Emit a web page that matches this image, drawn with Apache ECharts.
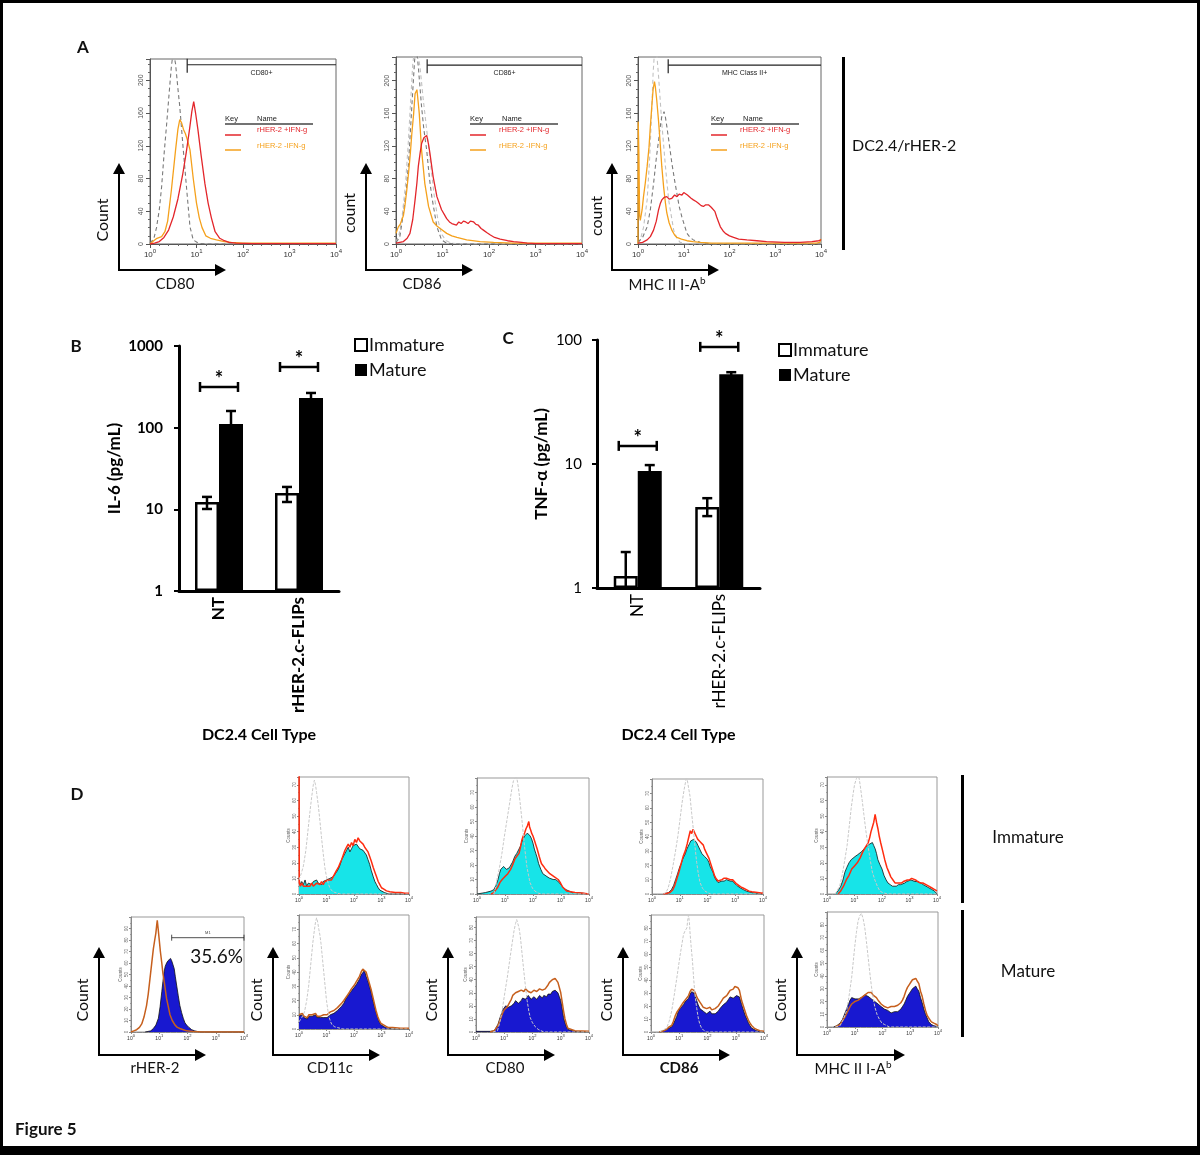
<!DOCTYPE html>
<html><head><meta charset="utf-8">
<script src="https://cdn.jsdelivr.net/npm/echarts@6/dist/echarts.min.js"></script>
<style>html,body{margin:0;padding:0;background:#fff}#c{width:1200px;height:1155px}</style>
</head><body><div id="c"></div>
<script>
// ---------------- DATA ----------------
// Panel A: histograms, x in log10 units (10^0..10^4), y = count
const a1Red=[[0,0],[0.1,1],[0.2,3],[0.3,8],[0.4,17],[0.5,33],[0.6,55],[0.7,84],[0.78,112],[0.85,140],[0.9,162],[0.94,174],[0.98,160],[1.03,140],[1.1,108],[1.18,74],[1.25,50],[1.32,32],[1.4,15],[1.5,7],[1.6,4],[1.7,2],[1.85,1],[2.2,0.5],[3,0.5],[4,0.5]];
const a1Orange=[[0,0],[0.08,4],[0.15,7],[0.25,9],[0.32,15],[0.38,28],[0.46,66],[0.55,115],[0.6,140],[0.64,152],[0.68,148],[0.72,140],[0.76,135],[0.8,128],[0.86,115],[0.93,80],[1.0,50],[1.06,32],[1.12,20],[1.2,10],[1.3,7],[1.43,5],[1.6,3],[1.75,2],[2,1],[3,1],[4,1]];
const a1Gray=[[0,1],[0.08,6],[0.14,20],[0.2,42],[0.25,70],[0.3,108],[0.36,148],[0.42,190],[0.46,217],[0.5,235],[0.55,220],[0.6,190],[0.64,168],[0.71,119],[0.79,66],[0.86,21],[0.93,5],[1.04,1],[1.2,0],[4,0]];
const a2Red=[[0,1],[0.08,2],[0.16,3],[0.24,7],[0.3,13],[0.36,30],[0.41,54],[0.45,75],[0.48,95],[0.52,112],[0.55,123],[0.6,130],[0.66,133],[0.7,122],[0.73,111],[0.8,82],[0.88,58],[0.98,42],[1.05,35],[1.09,31],[1.15,27],[1.2,25],[1.24,26],[1.3,23],[1.35,27],[1.4,25],[1.45,28],[1.5,27],[1.55,25],[1.6,28],[1.67,27],[1.72,24],[1.77,23],[1.83,19],[1.88,17],[1.95,14],[2.03,11],[2.12,8],[2.24,6],[2.4,4],[2.53,3],[2.7,2],[2.82,1],[3,0.5],[4,0.5]];
const a2Orange=[[0,13],[0.05,21],[0.09,24],[0.12,25],[0.16,35],[0.19,46],[0.23,65],[0.27,87],[0.31,112],[0.34,135],[0.38,160],[0.41,184],[0.45,189],[0.48,172],[0.5,160],[0.55,115],[0.62,74],[0.7,46],[0.8,27],[0.88,22],[0.95,19],[1.09,13],[1.2,10],[1.31,8],[1.52,5],[1.81,3],[2.1,2],[2.5,1],[4,1]];
const a2GrayDark=[[0,2],[0.08,8],[0.16,38],[0.22,65],[0.27,99],[0.34,168],[0.4,225],[0.44,240],[0.48,217],[0.55,168],[0.6,140],[0.66,115],[0.72,80],[0.77,58],[0.88,21],[0.98,5],[1.09,1],[1.3,0],[4,0]];
const a2GrayLight=[[0,3],[0.06,10],[0.12,28],[0.2,70],[0.26,120],[0.32,180],[0.36,220],[0.4,240],[0.46,238],[0.52,215],[0.58,180],[0.66,140],[0.74,100],[0.82,60],[0.9,30],[0.98,12],[1.08,4],[1.2,1],[1.4,0],[4,0]];
const a3Orange=[[0,0],[0.005,150],[0.02,110],[0.035,35],[0.05,29],[0.09,42],[0.12,58],[0.16,75],[0.2,95],[0.24,118],[0.27,144],[0.31,175],[0.33,189],[0.36,199],[0.38,192],[0.41,176],[0.45,150],[0.49,119],[0.52,95],[0.56,70],[0.6,50],[0.63,38],[0.68,26],[0.74,17],[0.8,11],[0.85,8],[0.95,6],[1.07,4],[1.2,3],[1.36,2],[1.6,1],[3.9,1],[3.97,2],[4,6]];
const a3Red=[[0,1],[0.1,2],[0.2,5],[0.27,9],[0.34,17],[0.4,28],[0.45,42],[0.49,50],[0.52,54],[0.57,57],[0.63,58],[0.68,55],[0.74,56],[0.8,60],[0.85,58],[0.9,61],[0.96,60],[1.0,63],[1.04,62],[1.08,60],[1.11,58],[1.16,56],[1.21,54],[1.27,52],[1.32,50],[1.38,47],[1.43,46],[1.48,48],[1.54,48],[1.6,45],[1.64,44],[1.68,40],[1.72,33],[1.76,27],[1.8,21],[1.86,16],[1.91,13],[2.0,10],[2.09,8],[2.2,6],[2.38,5],[2.6,4],[2.81,3],[3.2,2],[3.54,2],[3.8,3],[3.95,4],[4,5]];
const a3GrayDark=[[0,2],[0.1,8],[0.2,21],[0.27,42],[0.34,74],[0.4,105],[0.45,127],[0.49,145],[0.52,156],[0.57,162],[0.6,155],[0.63,144],[0.68,124],[0.74,99],[0.8,78],[0.85,62],[0.9,46],[0.96,33],[1.02,22],[1.07,13],[1.14,8],[1.21,5],[1.36,2],[1.6,0],[4,0]];
const a3GrayLight=[[0,1],[0.05,5],[0.12,20],[0.2,54],[0.25,100],[0.29,150],[0.33,209],[0.36,235],[0.4,240],[0.45,205],[0.52,148],[0.6,95],[0.67,54],[0.78,17],[0.85,7],[0.92,2],[1.05,0],[4,0]];
// gates: [start, end, level]
const gateA1=[0.8,4,219], gateA2=[0.67,4,219], gateA3=[0.66,4,219];

// Panel B: IL-6 (pg/mL)
const cellTypes=['NT','rHER-2.c-FLIPs'];
const il6Immature=[12.3,15.9], il6ImmLo=[10.1,12.3], il6ImmHi=[14.2,18.8];
const il6Mature=[111,231], il6MatLo=[75,200], il6MatHi=[160,266];
const il6SigY=[315,553];
// Panel C: TNF-alpha (pg/mL)
const tnfImmature=[1.25,4.5], tnfImmLo=[0.6,3.8], tnfImmHi=[1.95,5.3];
const tnfMature=[8.8,53], tnfMatLo=[7.9,51], tnfMatHi=[9.8,55];
const tnfSigY=[14,88];

// Panel D immature (cyan fill, red overlay, grey isotype)
const d1Iso=[[0,9],[0.08,13],[0.16,18],[0.25,28],[0.34,43],[0.4,53],[0.46,62],[0.52,70],[0.56,73],[0.6,70],[0.64,65],[0.7,57],[0.76,47],[0.82,36],[0.88,26],[0.94,17],[1.0,11],[1.06,7],[1.12,4],[1.2,2],[1.3,1],[1.5,0],[4,0]];
const d1Fill=[[0,10],[0.05,6],[0.1,8],[0.16,6],[0.22,9],[0.28,5],[0.34,7],[0.4,8],[0.46,6],[0.52,8],[0.58,7],[0.64,9],[0.7,7],[0.76,8],[0.82,6],[0.88,8],[0.94,7],[1.0,9],[1.06,8],[1.12,10],[1.18,10],[1.24,11],[1.3,12],[1.36,14],[1.43,16],[1.5,19],[1.55,22],[1.6,21],[1.67,26],[1.73,28],[1.79,30],[1.85,27],[1.91,29],[1.97,31],[2.03,30],[2.09,32],[2.15,31],[2.21,29],[2.27,30],[2.33,28],[2.39,27],[2.45,25],[2.51,22],[2.57,19],[2.63,15],[2.7,11],[2.76,8],[2.82,6],[2.88,4],[2.94,2.5],[3.0,1.5],[3.1,1],[3.18,0.5],[3.3,0],[4,0]];
const d1Red=[[0,100],[0.01,7],[0.05,5],[0.1,7],[0.16,5],[0.22,6],[0.28,5],[0.34,6],[0.4,5],[0.46,7],[0.52,5],[0.58,6],[0.64,7],[0.7,7],[0.76,6],[0.82,8],[0.88,6],[0.94,8],[1.0,7],[1.06,9],[1.12,8],[1.18,9],[1.24,11],[1.3,12],[1.36,15],[1.43,17],[1.5,20],[1.55,22],[1.61,25],[1.67,28],[1.73,30],[1.79,32],[1.85,30],[1.91,33],[1.97,31],[2.03,35],[2.09,33],[2.15,36],[2.21,34],[2.27,33],[2.33,32],[2.39,30],[2.45,29],[2.51,27],[2.57,24],[2.63,21],[2.7,17],[2.76,14],[2.82,11],[2.88,8],[2.94,6],[3.0,4],[3.1,3],[3.18,2],[3.3,1.5],[3.5,1],[3.7,1],[3.85,0.5],[4,0.5]];
const d2Iso=[[0.6,0],[0.66,4],[0.71,10],[0.8,18],[0.89,28],[0.98,40],[1.07,51],[1.16,62],[1.24,72],[1.3,78],[1.36,80],[1.4,82],[1.45,77],[1.5,70],[1.54,63],[1.6,52],[1.66,40],[1.72,29],[1.78,19],[1.84,13],[1.89,8],[1.98,4],[2.07,2],[2.2,0.5],[2.3,0],[4,0]];
const d2Fill=[[0,0],[0.3,1],[0.5,2],[0.6,3],[0.68,6],[0.75,10],[0.8,14],[0.85,17],[0.9,18],[0.95,19],[1.0,18],[1.05,17],[1.1,17],[1.15,18],[1.2,19],[1.27,22],[1.35,26],[1.42,28],[1.5,31],[1.55,33],[1.6,36],[1.65,38],[1.7,40],[1.75,41],[1.8,42],[1.85,41],[1.9,40],[1.95,38],[2.0,35],[2.05,31],[2.1,28],[2.15,25],[2.2,21],[2.28,17],[2.35,14],[2.42,13],[2.5,12],[2.58,11],[2.65,11],[2.72,10],[2.8,10],[2.88,9],[2.95,8],[3.02,6],[3.1,4],[3.18,3],[3.25,2],[3.4,1],[3.6,1],[3.8,0.5],[4,0]];
const d2Red=[[0.5,0],[0.6,1],[0.68,3],[0.75,5],[0.82,8],[0.9,10],[0.95,11],[1.0,12],[1.1,14],[1.2,17],[1.27,20],[1.35,24],[1.42,26],[1.5,28],[1.55,32],[1.6,37],[1.65,40],[1.7,42],[1.75,45],[1.8,47],[1.85,50],[1.88,46],[1.92,44],[1.95,42],[2.0,40],[2.05,37],[2.1,34],[2.15,31],[2.22,26],[2.3,21],[2.38,19],[2.45,17],[2.52,16],[2.6,14],[2.67,15],[2.75,12],[2.82,11],[2.9,10],[2.97,8],[3.05,5],[3.12,4],[3.2,2],[3.35,1.5],[3.5,1],[3.8,0.5],[4,0]];
const d3Iso=[[0.4,0],[0.5,1],[0.58,4],[0.66,10],[0.75,19],[0.84,29],[0.93,40],[1.01,52],[1.08,63],[1.16,73],[1.21,78],[1.25,82],[1.3,76],[1.37,68],[1.43,56],[1.49,45],[1.55,33],[1.61,22],[1.67,14],[1.73,8],[1.82,4],[1.91,2],[2.0,1],[2.1,0],[4,0]];
const d3Fill=[[0.4,0],[0.5,0.5],[0.6,1],[0.7,3],[0.78,6],[0.85,10],[0.92,14],[1.0,19],[1.05,21],[1.1,24],[1.15,26],[1.2,28],[1.25,31],[1.3,33],[1.35,35],[1.4,37],[1.45,38],[1.5,38],[1.55,37],[1.6,36],[1.65,34],[1.7,32],[1.75,30],[1.8,28],[1.85,27],[1.9,26],[1.95,25],[2.0,24],[2.05,22],[2.1,19],[2.15,17],[2.2,15],[2.25,12],[2.3,10],[2.38,8],[2.45,8],[2.52,9],[2.6,9],[2.68,10],[2.75,10],[2.82,9],[2.9,9],[2.97,8],[3.05,6],[3.12,5],[3.2,4],[3.3,3],[3.4,2],[3.5,1.5],[3.6,1],[3.8,0.5],[4,0]];
const d3Red=[[0.4,0],[0.55,0.5],[0.65,1],[0.75,3],[0.82,6],[0.9,11],[0.98,16],[1.05,21],[1.12,26],[1.2,30],[1.27,35],[1.33,40],[1.38,44],[1.43,42],[1.48,45],[1.55,42],[1.6,40],[1.65,38],[1.7,37],[1.75,36],[1.8,35],[1.85,34],[1.9,31],[1.95,29],[2.0,28],[2.05,25],[2.1,22],[2.15,19],[2.2,16],[2.25,13],[2.3,11],[2.38,9],[2.45,9],[2.52,10],[2.6,11],[2.68,11],[2.75,12],[2.82,10],[2.9,10],[2.97,9],[3.05,7],[3.12,6],[3.2,5],[3.3,4],[3.4,3],[3.5,2],[3.6,1.5],[3.8,1],[4,0.5]];
const d4Iso=[[0.3,0],[0.37,1],[0.46,5],[0.55,12],[0.64,21],[0.73,31],[0.8,42],[0.88,55],[0.94,63],[1.0,70],[1.07,74],[1.13,77],[1.18,73],[1.22,68],[1.28,60],[1.34,51],[1.41,41],[1.49,31],[1.57,22],[1.65,14],[1.74,9],[1.83,5],[1.92,2],[2.01,1],[2.2,0],[4,0]];
const d4Fill=[[0.3,0],[0.4,2],[0.5,5],[0.58,9],[0.65,14],[0.72,17],[0.8,20],[0.88,22],[0.95,23],[1.02,24],[1.1,25],[1.17,26],[1.25,27],[1.32,28],[1.4,30],[1.47,31],[1.55,32],[1.6,33],[1.65,33],[1.7,31],[1.75,29],[1.8,26],[1.85,22],[1.92,19],[2.0,16],[2.07,12],[2.15,9],[2.22,7],[2.3,6],[2.38,5],[2.45,5],[2.52,5],[2.6,6],[2.68,6],[2.75,7],[2.82,7],[2.9,8],[2.97,8],[3.05,9],[3.12,9],[3.2,8],[3.28,8],[3.35,7],[3.42,7],[3.5,6],[3.6,5],[3.7,4],[3.8,3],[3.9,2],[3.96,1],[4,0]];
const d4Red=[[0.4,0],[0.5,2],[0.6,5],[0.7,9],[0.8,12],[0.9,16],[1.0,18],[1.1,20],[1.2,23],[1.3,27],[1.4,30],[1.5,33],[1.55,36],[1.6,40],[1.65,43],[1.7,46],[1.75,51],[1.8,46],[1.85,42],[1.9,37],[1.95,33],[2.02,28],[2.1,22],[2.18,17],[2.25,14],[2.32,11],[2.4,9],[2.48,7],[2.55,6],[2.62,7],[2.7,7],[2.78,8],[2.85,8],[2.92,9],[3.0,9],[3.08,10],[3.15,10],[3.22,9],[3.3,8],[3.4,7],[3.5,7],[3.6,6],[3.7,5],[3.8,4],[3.9,3],[4,2]];
// Panel D mature (blue fill, brown overlay, grey isotype)
const d5Brown=[[0,0],[0.1,1],[0.2,2],[0.3,4],[0.38,7],[0.46,13],[0.55,23],[0.61,33],[0.67,46],[0.73,59],[0.79,72],[0.84,80],[0.88,86],[0.91,93],[0.93,97],[0.96,90],[1.0,80],[1.04,70],[1.09,60],[1.13,51],[1.18,43],[1.22,36],[1.26,29],[1.32,22],[1.38,15],[1.46,10],[1.56,6],[1.64,4],[1.73,3],[1.85,2],[1.97,1],[2.2,0.5],[2.5,0],[4,0]];
const d5Fill=[[0.5,0],[0.6,0.5],[0.7,1],[0.79,3],[0.88,6],[0.97,12],[1.03,22],[1.09,35],[1.13,44],[1.17,52],[1.21,57],[1.26,60],[1.31,62],[1.36,63],[1.4,64],[1.44,62],[1.48,59],[1.53,55],[1.57,48],[1.62,40],[1.67,32],[1.73,23],[1.79,17],[1.85,12],[1.91,8],[1.97,6],[2.05,4],[2.15,2],[2.25,1],[2.32,1],[2.44,0],[4,0]];
const gateD5=[1.44,4,82];
const d6Iso=[[0,5],[0.1,8],[0.2,12],[0.28,20],[0.35,30],[0.42,44],[0.5,60],[0.55,68],[0.6,75],[0.64,78],[0.68,75],[0.72,70],[0.76,66],[0.8,60],[0.85,50],[0.9,40],[0.95,30],[1.0,20],[1.05,13],[1.1,8],[1.15,5],[1.2,3],[1.3,1.5],[1.4,1],[1.6,0],[4,0]];
const d6Fill=[[0,9],[0.06,8],[0.12,10],[0.18,8],[0.24,9],[0.3,7],[0.36,9],[0.42,8],[0.48,9],[0.54,8],[0.6,10],[0.66,8],[0.72,9],[0.78,8],[0.84,9],[0.9,8],[0.96,9],[1.02,8],[1.08,9],[1.14,10],[1.2,11],[1.27,11],[1.33,12],[1.4,13],[1.47,14],[1.55,16],[1.63,18],[1.7,21],[1.77,23],[1.84,25],[1.9,26],[1.96,28],[2.02,29],[2.08,31],[2.14,33],[2.2,35],[2.26,38],[2.32,39],[2.38,41],[2.44,37],[2.5,34],[2.56,30],[2.62,26],[2.68,21],[2.74,16],[2.8,12],[2.86,8],[2.92,5],[2.98,3],[3.05,2],[3.15,1],[3.25,0.5],[3.4,0],[4,0]];
const d6Brown=[[0,10],[0.06,9],[0.12,11],[0.18,9],[0.24,10],[0.3,8],[0.36,10],[0.42,9],[0.48,10],[0.54,9],[0.6,11],[0.66,9],[0.72,10],[0.78,9],[0.84,10],[0.9,10],[0.96,10],[1.02,10],[1.08,11],[1.14,12],[1.2,12],[1.27,13],[1.33,14],[1.4,15],[1.47,16],[1.55,18],[1.63,20],[1.7,22],[1.77,24],[1.84,26],[1.9,28],[1.96,29],[2.02,31],[2.08,33],[2.14,35],[2.2,37],[2.26,40],[2.32,42],[2.38,43],[2.44,40],[2.5,36],[2.56,32],[2.62,28],[2.68,23],[2.74,18],[2.8,13],[2.86,9],[2.92,6],[2.98,4],[3.05,3],[3.15,2],[3.25,1],[3.4,1],[3.7,0.5],[4,0.5]];
const d7Iso=[[0.6,0],[0.76,1],[0.85,8],[0.93,17],[1.02,30],[1.11,42],[1.2,56],[1.28,68],[1.35,78],[1.4,83],[1.44,86],[1.48,85],[1.52,80],[1.57,73],[1.63,60],[1.69,47],[1.75,35],[1.81,24],[1.87,16],[1.92,11],[2.0,7],[2.1,4],[2.2,2],[2.27,1],[2.4,0],[4,0]];
const d7Fill=[[0,0.5],[0.5,0.5],[0.65,1],[0.7,2],[0.78,6],[0.85,11],[0.9,14],[0.95,17],[1.0,18],[1.05,20],[1.1,20],[1.15,19],[1.2,19],[1.25,20],[1.3,20],[1.35,22],[1.4,24],[1.45,23],[1.5,22],[1.55,23],[1.6,24],[1.65,26],[1.7,27],[1.75,25],[1.8,26],[1.85,28],[1.9,27],[1.95,25],[2.0,26],[2.05,27],[2.1,27],[2.15,25],[2.2,26],[2.25,28],[2.3,27],[2.35,26],[2.4,28],[2.45,27],[2.5,27],[2.55,29],[2.6,30],[2.65,29],[2.7,31],[2.75,31],[2.8,32],[2.85,31],[2.9,30],[2.95,27],[3.0,24],[3.05,18],[3.1,11],[3.15,7],[3.2,4],[3.25,2],[3.3,1],[3.5,0.5],[4,0]];
const d7Brown=[[0.5,0],[0.65,1],[0.7,2],[0.78,5],[0.85,9],[0.9,12],[0.95,15],[1.0,17],[1.05,18],[1.1,19],[1.15,21],[1.2,23],[1.25,25],[1.3,28],[1.35,29],[1.4,30],[1.45,31],[1.5,31],[1.55,30],[1.6,32],[1.65,31],[1.7,31],[1.75,33],[1.8,33],[1.85,31],[1.9,31],[1.95,30],[2.0,30],[2.05,32],[2.1,32],[2.15,31],[2.2,31],[2.25,33],[2.3,33],[2.35,32],[2.4,32],[2.45,33],[2.5,34],[2.55,36],[2.6,38],[2.65,39],[2.7,40],[2.75,41],[2.8,41],[2.85,40],[2.9,38],[2.95,34],[3.0,30],[3.05,23],[3.1,16],[3.15,10],[3.2,6],[3.25,3],[3.3,2],[3.5,1],[4,0.5]];
const d8Iso=[[0,0],[0.3,0],[0.55,3],[0.64,8],[0.73,16],[0.82,28],[0.91,41],[0.97,50],[1.03,59],[1.09,67],[1.15,75],[1.21,78],[1.27,80],[1.3,86],[1.33,90],[1.36,84],[1.38,77],[1.42,66],[1.47,54],[1.51,41],[1.56,28],[1.62,18],[1.68,10],[1.73,6],[1.79,3],[1.88,1],[1.97,0],[4,0]];
const d8Fill=[[0.3,0],[0.45,1],[0.55,2],[0.64,3],[0.73,4],[0.79,6],[0.85,9],[0.91,12],[0.97,16],[1.03,18],[1.09,19],[1.15,21],[1.2,23],[1.26,24],[1.33,26],[1.38,29],[1.44,31],[1.48,32],[1.52,30],[1.57,27],[1.62,24],[1.67,21],[1.73,18],[1.79,17],[1.85,16],[1.91,15],[1.97,14],[2.03,15],[2.09,16],[2.15,14],[2.21,13],[2.27,14],[2.32,14],[2.38,16],[2.44,18],[2.5,19],[2.56,21],[2.62,22],[2.68,23],[2.74,25],[2.8,27],[2.86,26],[2.91,26],[2.97,27],[3.03,28],[3.08,28],[3.13,27],[3.17,24],[3.21,21],[3.27,17],[3.33,13],[3.39,10],[3.45,7],[3.5,5],[3.56,3],[3.65,2],[3.74,1],[3.85,0.5],[4,0]];
const d8Brown=[[0.3,0],[0.45,1],[0.55,2],[0.64,4],[0.73,5],[0.79,8],[0.85,12],[0.91,15],[0.97,17],[1.03,19],[1.09,21],[1.15,23],[1.2,24],[1.26,26],[1.33,28],[1.38,31],[1.44,33],[1.48,34],[1.52,32],[1.57,30],[1.62,27],[1.67,25],[1.73,23],[1.79,21],[1.85,19],[1.91,18],[1.97,18],[2.03,19],[2.09,19],[2.15,17],[2.21,17],[2.27,18],[2.32,18],[2.38,20],[2.44,22],[2.5,24],[2.56,26],[2.62,27],[2.68,28],[2.74,30],[2.8,32],[2.86,33],[2.91,33],[2.97,35],[3.03,36],[3.08,34],[3.13,32],[3.17,28],[3.21,24],[3.27,20],[3.33,16],[3.39,12],[3.45,9],[3.5,7],[3.56,5],[3.65,3],[3.74,2],[3.85,1],[4,0.5]];
const d9Iso=[[0.3,0],[0.47,1],[0.59,6],[0.71,13],[0.8,25],[0.89,39],[0.95,52],[1.0,63],[1.06,74],[1.12,83],[1.18,87],[1.24,89],[1.3,85],[1.36,78],[1.42,67],[1.48,55],[1.54,43],[1.6,32],[1.66,23],[1.72,16],[1.8,10],[1.89,6],[1.98,3],[2.07,2],[2.25,0],[4,0]];
const d9Fill=[[0.24,0],[0.35,1],[0.47,3],[0.56,6],[0.65,11],[0.74,16],[0.83,21],[0.89,23],[0.95,24],[1.01,22],[1.07,21],[1.13,22],[1.18,22],[1.24,23],[1.3,24],[1.36,25],[1.42,25],[1.48,24],[1.54,24],[1.6,22],[1.66,21],[1.72,20],[1.78,19],[1.84,18],[1.89,17],[1.95,16],[2.01,15],[2.07,14],[2.13,13],[2.19,13],[2.25,12],[2.31,11],[2.37,11],[2.43,12],[2.49,12],[2.55,12],[2.6,13],[2.66,14],[2.72,16],[2.78,18],[2.84,21],[2.9,24],[2.96,26],[3.02,28],[3.08,30],[3.14,31],[3.2,32],[3.25,30],[3.31,28],[3.37,23],[3.43,19],[3.49,14],[3.55,10],[3.61,7],[3.67,4],[3.76,2],[3.85,1],[3.95,0.5],[4,0]];
const d9Brown=[[0.3,0],[0.47,2],[0.56,5],[0.65,8],[0.74,12],[0.83,16],[0.89,18],[0.95,19],[1.01,20],[1.07,20],[1.13,21],[1.18,21],[1.24,23],[1.3,24],[1.36,25],[1.42,26],[1.48,27],[1.54,28],[1.6,27],[1.66,25],[1.72,24],[1.78,23],[1.84,21],[1.89,20],[1.95,18],[2.01,17],[2.07,16],[2.13,16],[2.19,15],[2.25,15],[2.31,16],[2.37,16],[2.43,16],[2.49,16],[2.55,17],[2.6,17],[2.66,19],[2.72,21],[2.78,24],[2.84,28],[2.9,31],[2.96,33],[3.02,35],[3.08,37],[3.14,38],[3.2,38],[3.25,36],[3.31,34],[3.37,28],[3.43,24],[3.49,18],[3.55,13],[3.61,9],[3.67,7],[3.76,4],[3.85,3],[3.95,2],[4,1]];

// ---------------- LAYOUT / STYLE ----------------
const FONT='Lato';
const STY={
  red:{color:'#e3262b',width:1.3}, orange:{color:'#f5a11c',width:1.3},
  grayDark:{color:'#7a7a7a',width:1.1,type:[4,3]}, grayLight:{color:'#c2c2c2',width:1.1,type:[4,3]},
  cyan:{color:'#111',width:0.8,fill:'#17e4e8'}, blue:{color:'#111',width:0.8,fill:'#1818d0'},
  redD:{color:'#ff2c0f',width:1.5}, brown:{color:'#c65f1d',width:1.5},
  iso:{color:'#c8c8c8',width:1,type:[3,1.5]}
};
const plotsA=[
  {rect:[150,59,186,185],ymax:226,gate:gateA1,label:'CD80+',lines:[['grayDark',a1Gray],['orange',a1Orange],['red',a1Red]]},
  {rect:[396,57,186,187],ymax:229,gate:gateA2,label:'CD86+',lines:[['grayLight',a2GrayLight],['grayDark',a2GrayDark],['orange',a2Orange],['red',a2Red]]},
  {rect:[638,57,183,187],ymax:229,gate:gateA3,label:'MHC Class II+',lines:[['grayLight',a3GrayLight],['grayDark',a3GrayDark],['orange',a3Orange],['red',a3Red]]}
];
const plotsD=[
  {rect:[299,777,110,117],ymax:75,lines:[['cyan',d1Fill],['redD',d1Red],['iso',d1Iso]]},
  {rect:[477,778,112,116],ymax:80,lines:[['cyan',d2Fill],['redD',d2Red],['iso',d2Iso]]},
  {rect:[652,779,111,115],ymax:80,lines:[['cyan',d3Fill],['redD',d3Red],['iso',d3Iso]]},
  {rect:[827,777,110,117],ymax:75,lines:[['cyan',d4Fill],['redD',d4Red],['iso',d4Iso]]},
  {rect:[131,917,113,115],ymax:100,lines:[['blue',d5Fill],['brown',d5Brown]],gate:gateD5},
  {rect:[299,915,110,114],ymax:80,lines:[['blue',d6Fill],['brown',d6Brown],['iso',d6Iso]]},
  {rect:[476,917,113,115],ymax:88,lines:[['blue',d7Fill],['brown',d7Brown],['iso',d7Iso]]},
  {rect:[651,915,113,117],ymax:90,lines:[['blue',d8Fill],['brown',d8Brown],['iso',d8Iso]]},
  {rect:[827,912,111,115],ymax:90,lines:[['blue',d9Fill],['brown',d9Brown],['iso',d9Iso]]}
];

const grids=[],xAxes=[],yAxes=[],series=[];
function supLabel(big,small){
  return {formatter:v=>'{b|10}{s|'+v+'}',rich:{b:{fontSize:big,fontFamily:'Liberation Sans',color:'#333',verticalAlign:'bottom'},s:{fontSize:small,fontFamily:'Liberation Sans',color:'#333',verticalAlign:'bottom',padding:[0,0,big*0.55,0]}}};
}
function addFlow(cfg,isA){
  const gi=grids.length;
  const [l,t,w,h]=cfg.rect;
  grids.push({left:l,top:t,width:w,height:h,show:true,borderColor:isA?'#666':'#999',borderWidth:1,backgroundColor:'#fff'});
  const lab=supLabel(isA?8:5,isA?6:4);
  xAxes.push({gridIndex:gi,type:'value',min:0,max:4,interval:1,
    axisLine:{show:true,onZero:false,lineStyle:{color:isA?'#555':'#888',width:1}},
    axisTick:{show:true,length:isA?4:2,lineStyle:{color:isA?'#555':'#888'}},
    minorTick:{show:true,splitNumber:5,length:isA?2:1,lineStyle:{color:isA?'#666':'#999'}},
    splitLine:{show:false},
    axisLabel:{margin:isA?4:2,formatter:lab.formatter,rich:lab.rich}});
  yAxes.push({gridIndex:gi,type:'value',min:0,max:cfg.ymax,interval:isA?40:10,
    axisLine:{show:true,lineStyle:{color:isA?'#555':'#888',width:1}},
    axisTick:{show:true,length:isA?4:2,lineStyle:{color:isA?'#555':'#888'}},
    minorTick:{show:true,splitNumber:isA?4:2,length:isA?2:1,lineStyle:{color:isA?'#666':'#999'}},
    splitLine:{show:false},
    axisLabel:{rotate:90,fontSize:isA?7:4.5,fontFamily:'Liberation Sans',color:isA?'#555':'#666',margin:isA?5:2,showMaxLabel:false},
    name:isA?'':'Counts',nameLocation:'middle',nameGap:8,nameTextStyle:{fontSize:4.5,color:'#666',fontFamily:'Liberation Sans'}});
  cfg.lines.forEach(([key,data],k)=>{
    const s=STY[key];
    const o={type:'line',name:key,data,xAxisIndex:gi,yAxisIndex:gi,showSymbol:false,symbol:'none',silent:true,clip:true,
      lineStyle:{color:s.color,width:s.width,type:s.type||'solid'},z:2+k};
    if(s.fill) o.areaStyle={color:s.fill,opacity:1};
    series.push(o);
  });
  if(cfg.gate){
    const isD=!isA;
    series.push({type:'custom',xAxisIndex:gi,yAxisIndex:gi,data:[cfg.gate],z:10,silent:true,
      renderItem:(params,api)=>{
        const p0=api.coord([api.value(0),api.value(2)]),p1=api.coord([api.value(1),api.value(2)]);
        const st={stroke:'#222',lineWidth:isD?0.8:1.2};
        const ch=[{type:'line',shape:{x1:p0[0],y1:p0[1],x2:p1[0],y2:p1[1]},style:st}];
        if(isA){
          ch.push({type:'line',shape:{x1:p0[0],y1:p0[1]-6,x2:p0[0],y2:p0[1]+8},style:st});
          ch.push({type:'text',x:(p0[0]+p1[0])/2,y:p0[1]+8,style:{text:cfg.label,fontSize:7,fontFamily:'Liberation Sans',fill:'#222',textAlign:'center',textVerticalAlign:'middle'}});
        } else {
          ch.push({type:'line',shape:{x1:p0[0],y1:p0[1]-3,x2:p0[0],y2:p0[1]+3},style:st});
          ch.push({type:'line',shape:{x1:p1[0],y1:p1[1]-3,x2:p1[0],y2:p1[1]+3},style:st});
          ch.push({type:'text',x:(p0[0]+p1[0])/2,y:p0[1]-3,style:{text:'M1',fontSize:4,fontFamily:'Liberation Sans',fill:'#444',textAlign:'center',textVerticalAlign:'bottom'}});
          ch.push({type:'text',x:p1[0]-1,y:p0[1]+19,style:{text:'35.6%',fontSize:19,fontFamily:FONT,fill:'#111',textAlign:'right',textVerticalAlign:'middle'}});
        }
        return {type:'group',children:ch};
      }});
  }
}
plotsA.forEach(p=>addFlow(p,true));

// bar charts
function errRender(offset){
  return (params,api)=>{
    const c=api.value(0),lo=api.value(1),hi=api.value(2);
    const ph=api.coord([c,hi]),pl=api.coord([c,lo]);
    const cs=params.coordSys,bottom=cs.y+cs.height;
    const x=ph[0]+offset,yl=Math.min(pl[1],bottom);
    const st={stroke:'#000',lineWidth:2.5};
    const ch=[{type:'line',shape:{x1:x,y1:ph[1],x2:x,y2:yl},style:st},
      {type:'line',shape:{x1:x-5,y1:ph[1],x2:x+5,y2:ph[1]},style:st}];
    if(pl[1]<=bottom) ch.push({type:'line',shape:{x1:x-5,y1:pl[1],x2:x+5,y2:pl[1]},style:st});
    return {type:'group',children:ch};
  };
}
function sigRender(params,api){
  const p=api.coord([api.value(0),api.value(1)]);
  const st={stroke:'#000',lineWidth:2.5};
  return {type:'group',children:[
    {type:'line',shape:{x1:p[0]-19,y1:p[1],x2:p[0]+19,y2:p[1]},style:st},
    {type:'line',shape:{x1:p[0]-19,y1:p[1]-5,x2:p[0]-19,y2:p[1]+5},style:st},
    {type:'line',shape:{x1:p[0]+19,y1:p[1]-5,x2:p[0]+19,y2:p[1]+5},style:st},
    {type:'text',x:p[0],y:p[1]-7,style:{text:'*',fontSize:20,fontWeight:'bold',fontFamily:FONT,fill:'#000',textAlign:'center',textVerticalAlign:'middle'}}
  ]};
}
function addBars(cfg){
  const gi=grids.length;
  grids.push({left:cfg.rect[0],top:cfg.rect[1],width:cfg.rect[2],height:cfg.rect[3]});
  const fw=cfg.bold?'bold':'normal';
  xAxes.push({gridIndex:gi,type:'category',data:cellTypes,
    axisLine:{show:true,lineStyle:{color:'#000',width:3}},axisTick:{show:false},
    axisLabel:{rotate:90,fontSize:17,fontWeight:fw,fontFamily:FONT,color:'#000',margin:6},
    name:'DC2.4 Cell Type',nameLocation:'middle',nameGap:cfg.xGap,
    nameTextStyle:{fontSize:16,fontWeight:'bold',fontFamily:FONT,color:'#000'}});
  yAxes.push({gridIndex:gi,type:'log',logBase:10,min:1,max:cfg.max,
    axisLine:{show:true,lineStyle:{color:'#000',width:3}},
    axisTick:{show:true,length:5,lineStyle:{color:'#000',width:2}},
    splitLine:{show:false},
    axisLabel:{fontSize:15,fontWeight:fw,fontFamily:FONT,color:'#000',margin:cfg.lm,formatter:v=>String(v)},
    name:cfg.yname,nameLocation:'middle',nameGap:cfg.yGap,nameRotate:90,
    nameTextStyle:{fontSize:17,fontWeight:'bold',fontFamily:FONT,color:'#000'}});
  series.push({type:'bar',name:'Immature',xAxisIndex:gi,yAxisIndex:gi,data:cfg.imm,barWidth:24,barGap:'0%',
    itemStyle:{color:'#fff',borderColor:'#000',borderWidth:2.5},z:3});
  series.push({type:'bar',name:'Mature',xAxisIndex:gi,yAxisIndex:gi,data:cfg.mat,barWidth:24,barGap:'0%',
    itemStyle:{color:'#000'},z:3});
  series.push({type:'custom',name:'errI'+gi,xAxisIndex:gi,yAxisIndex:gi,z:5,renderItem:errRender(-12),
    data:cfg.imm.map((v,i)=>[i,cfg.immLo[i],cfg.immHi[i]])});
  series.push({type:'custom',name:'errM'+gi,xAxisIndex:gi,yAxisIndex:gi,z:5,renderItem:errRender(12),
    data:cfg.mat.map((v,i)=>[i,cfg.matLo[i],cfg.matHi[i]])});
  series.push({type:'custom',name:'sig'+gi,xAxisIndex:gi,yAxisIndex:gi,z:5,renderItem:sigRender,
    data:cfg.sig.map((v,i)=>[i,v])});
}
addBars({rect:[179,346,160,245],max:1000,bold:true,imm:il6Immature,immLo:il6ImmLo,immHi:il6ImmHi,mat:il6Mature,matLo:il6MatLo,matHi:il6MatHi,sig:il6SigY,yname:'IL-6 (pg/mL)',yGap:56,xGap:136,lm:16});
addBars({rect:[597,340,163,248],max:100,bold:false,imm:tnfImmature,immLo:tnfImmLo,immHi:tnfImmHi,mat:tnfMature,matLo:tnfMatLo,matHi:tnfMatHi,sig:tnfSigY,yname:'TNF-α (pg/mL)',yGap:47,xGap:139,lm:15});

plotsD.forEach(p=>addFlow(p,false));

// ---------------- GRAPHIC (annotations) ----------------
const G=[];
function T(text,x,y,o){o=o||{};G.push({type:'text',x,y,rotation:o.rot||0,z:20,style:{text,fontSize:o.size||16,fontWeight:o.bold?'bold':'normal',fontFamily:o.fam||FONT,fill:o.color||'#111',textAlign:o.align||'center',textVerticalAlign:'middle',rich:o.rich}});}
function L(x1,y1,x2,y2,c,w){G.push({type:'line',z:20,shape:{x1,y1,x2,y2},style:{stroke:c||'#000',lineWidth:w||2}});}
function R(x,y,w,h){G.push({type:'rect',z:20,shape:{x,y,width:w,height:h},style:{fill:'#000'}});}
function arrow(x,y0,x1,yt){
  L(x,y0,x,yt+9); L(x-1,y0,x1-9,y0);
  G.push({type:'polygon',z:20,shape:{points:[[x-6,yt+11],[x+6,yt+11],[x,yt]]},style:{fill:'#000'}});
  G.push({type:'polygon',z:20,shape:{points:[[x1-11,y0-6],[x1-11,y0+6],[x1,y0]]},style:{fill:'#000'}});
}
const RICH_MHC={n:{fontSize:15,fontFamily:FONT,fill:'#111',verticalAlign:'bottom'},s:{fontSize:10,fontFamily:FONT,fill:'#111',verticalAlign:'bottom',padding:[0,0,7,0]}};
function keyLegend(x,ys){
  const f={size:7.5,fam:'Liberation Sans',align:'left'};
  T('Key',x,119,Object.assign({},f,{color:'#222'}));
  T('Name',x+32,119,Object.assign({},f,{color:'#222'}));
  L(x,124,x+88,124,'#444',1.5);
  L(x,135,x+16,135,'#e3262b',1.5);
  T('rHER-2 +IFN-g',x+ys,130,Object.assign({},f,{color:'#e3262b'}));
  L(x,150,x+16,150,'#f5a11c',1.5);
  T('rHER-2 -IFN-g',x+ys,146,Object.assign({},f,{color:'#f5a11c'}));
}
// frame
R(0,0,1200,3); R(0,0,3,1155); R(1197,0,3,1155); R(0,1146,1200,9);
// panel letters
T('A',83,48,{bold:true,size:17}); T('B',76,347,{bold:true,size:17}); T('C',508,339,{bold:true,size:17}); T('D',77,795,{bold:true,size:17});
T('Figure 5',15,1130,{bold:true,size:17,align:'left'});
// panel A
arrow(119,270,226,163); arrow(366,270,473,163); arrow(612,270,719,163);
T('Count',103,220,{rot:Math.PI/2}); T('count',350,213,{rot:Math.PI/2}); T('count',597,216,{rot:Math.PI/2});
T('CD80',175,284,{size:15}); T('CD86',422,284,{size:15});
T('{n|MHC II I-A}{s|b}',667,284,{rich:RICH_MHC});
keyLegend(225,32); keyLegend(470,29); keyLegend(711,29);
R(842,57,3,193);
T('DC2.4/rHER-2',852,146,{align:'left'});
// panel D
[[99,206],[273,380],[448,555],[623,730],[797,905]].forEach(([x,x1])=>{arrow(x,1055,x1,947); T('Count',x-16,1000,{rot:Math.PI/2});});
T('rHER-2',155,1068,{size:15}); T('CD11c',330,1068,{size:15}); T('CD80',505,1068,{size:15}); T('CD86',679,1068,{size:15,bold:true});
T('{n|MHC II I-A}{s|b}',853,1068,{rich:RICH_MHC});
R(961,775,3,128); R(961,910,3,127);
T('Immature',1028,838,{size:17}); T('Mature',1028,972,{size:17});

const legendBase={orient:'vertical',itemGap:7,itemWidth:12,itemHeight:12,icon:'rect',selectedMode:false,data:['Immature','Mature'],
  itemStyle:{borderWidth:2},textStyle:{fontSize:18,fontFamily:FONT,color:'#111',padding:[0,0,0,-3]}};
const option={
  animation:false,backgroundColor:'#fff',
  grid:grids,xAxis:xAxes,yAxis:yAxes,series,
  legend:[Object.assign({left:349,top:331},legendBase),Object.assign({left:773,top:336},legendBase)],
  graphic:{elements:G}
};
const chart=echarts.init(document.getElementById('c'),null,{renderer:'canvas'});
chart.setOption(option);
</script></body></html>
